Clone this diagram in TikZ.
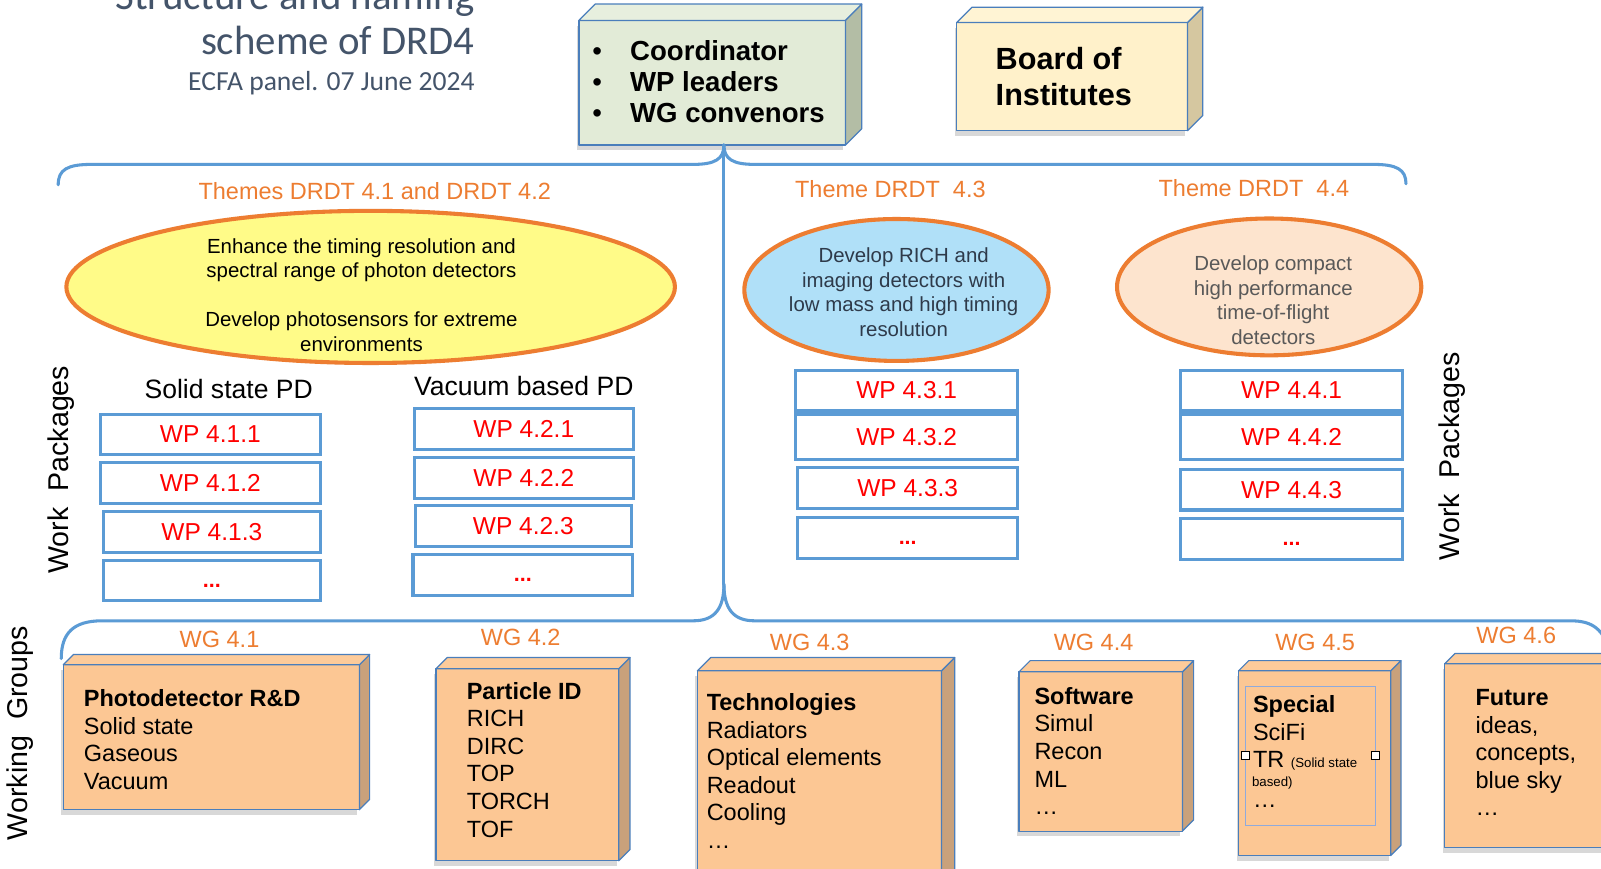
\documentclass[tikz,border=0pt]{standalone}
\usepackage{fontspec}
\setmainfont{Liberation Sans}
\newfontfamily\calib{Carlito}
\usetikzlibrary{shapes.geometric,shadows}
\definecolor{titlec}{HTML}{44546A}
\definecolor{orng}{HTML}{ED7D31}
\definecolor{bracec}{HTML}{5B9BD5}
\definecolor{edgec}{HTML}{4A7EBB}
\definecolor{wgfront}{HTML}{FCC794}
\definecolor{wgside}{HTML}{C9A17B}
\definecolor{wgtop}{HTML}{FDCB9A}
\definecolor{cofront}{HTML}{E2EBD7}
\definecolor{coside}{HTML}{B3BDA5}
\definecolor{cotop}{HTML}{E7EFDE}
\definecolor{bofront}{HTML}{FFF1CA}
\definecolor{boside}{HTML}{D5C7A0}
\definecolor{botop}{HTML}{FFF4D4}
\definecolor{yellowell}{HTML}{FFFB88}
\definecolor{blueell}{HTML}{B0E0F8}
\definecolor{peachell}{HTML}{FDE4CE}
\definecolor{wpred}{HTML}{FF0000}
\definecolor{innerc}{HTML}{8FAADC}
\definecolor{bluetxt}{HTML}{2E3A4A}
\definecolor{peachtxt}{HTML}{595959}
\newcommand{\fsz}[2]{\fontsize{#1}{#2}\selectfont}
% 3D faces of a box whose front face is node #1
\newcommand{\cubefaces}[4]{%
  \filldraw[boxedge,fill=#3] (#1.north east) -- ++(#2,-#2) -- ([shift={(#2,-#2)}]#1.south east) -- (#1.south east) -- cycle;
  \filldraw[boxedge,fill=#4] (#1.north west) -- ++(#2,-#2) -- ([shift={(#2,-#2)}]#1.north east) -- (#1.north east) -- cycle;
}
\begin{document}
\begin{tikzpicture}[x=1pt,y=-1pt,
  boxedge/.style={draw=edgec,line width=1.2pt,line join=round},
  face/.style={boxedge,outer sep=0pt,inner sep=0pt,
     drop shadow={shadow xshift=-2pt,shadow yshift=-5pt,opacity=0.3}},
  wpbox/.style={draw=bracec,line width=3pt,fill=white,outer sep=0pt,inner sep=0pt,
     minimum width=215,minimum height=40,font=\fsz{24}{28},text=wpred},
  wpdots/.style={font=\bfseries\fsz{21}{24},text=wpred,inner sep=0pt},
  brace/.style={draw=bracec,line width=3pt,line cap=round},
  orlabel/.style={text=orng,font=\fsz{23}{27},inner sep=0pt},
  wgtext/.style={anchor=north west,align=left,inner sep=0pt,font=\fsz{23}{27}},
  elltext/.style={align=center,inner sep=0pt,font=\fsz{20}{24}},
  ell/.style={ellipse,draw=orng,line width=4pt,inner sep=0pt}
]
\useasboundingbox (0,0) rectangle (1568,851);
\fill[white] (0,0) rectangle (1568,851);
\begin{scope}
\clip (0,0) rectangle (1568,851);

% ---------- title ----------
\node[anchor=base east,inner sep=0pt,font=\calib\fsz{40}{44},text=titlec] (title1) at (465,9) {Structure and naming};
\node[anchor=base east,inner sep=0pt,font=\calib\fsz{40}{44},text=titlec] (title2) at (465,53) {scheme of DRD4};
\node[anchor=base east,inner sep=0pt,font=\calib\fsz{27}{30},text=titlec] (title3) at (465,89) {ECFA panel. 07 June 2024};

% ---------- top boxes ----------
\node[face,fill=cofront,minimum width=261,minimum height=122] (coord) at (697.5,81) {};
\cubefaces{coord}{16}{coside}{cotop}
\node[anchor=north west,align=left,inner sep=0pt,font=\bfseries\fsz{27}{30.5}] (coordtxt) at (580,39)
  {\makebox[37pt][l]{\mdseries•}Coordinator\\\makebox[37pt][l]{\mdseries•}WP leaders\\\makebox[37pt][l]{\mdseries•}WG convenors};

\node[face,fill=bofront,minimum width=226,minimum height=106] (board) at (1050,75) {};
\cubefaces{board}{15}{boside}{botop}
\node[anchor=north west,align=left,inner sep=0pt,font=\bfseries\fsz{30}{35}] (boardtxt) at (975,46) {Board of\\Institutes};

% ---------- braces ----------
\coordinate (ucusp) at (709,142);
\coordinate (lcusp) at (709,572);
\coordinate (ul) at (57,181);
\coordinate (ur) at (1377,180);
\coordinate (ll) at (60,645);
\coordinate (lr) at (1578,640);
\draw[brace] (ul) .. controls (57,166) and (66,161) .. (90,161) -- (679,161) .. controls (700,161) and (709,156) .. (ucusp);
\draw[brace] (ucusp) .. controls (709,156) and (718,161) .. (739,161) -- (1345,161) .. controls (1368,161) and (1377,166) .. (ur);
\draw[brace] (ucusp) -- (lcusp);
\draw[brace] (ll) .. controls (60,620) and (72,608) .. (100,608) -- (679,608) .. controls (700,608) and (709,596) .. (lcusp);
\draw[brace] (lcusp) .. controls (709,596) and (718,608) .. (739,608) -- (1538,608) .. controls (1560,608) and (1570,616) .. (lr);

% ---------- themes ----------
\node[orlabel] (th12) at (367,187) {Themes DRDT 4.1 and DRDT 4.2};
\node[orlabel] (th3) at (872,185) {Theme DRDT\ \ 4.3};
\node[orlabel] (th4) at (1228,184) {Theme DRDT\ \ 4.4};

\node[ell,fill=yellowell,minimum width=596,minimum height=149] (ellY) at (363,281) {};
\node[elltext] (ellYt) at (354,289) {Enhance the timing resolution and\\spectral range of photon detectors\\[24pt]Develop photosensors for extreme\\environments};

\node[ell,fill=blueell,minimum width=298,minimum height=139] (ellB) at (878,284) {};
\node[elltext,text=bluetxt] (ellBt) at (885,286) {Develop RICH and\\imaging detectors with\\low mass and high timing\\resolution};

\node[ell,fill=peachell,minimum width=298,minimum height=134] (ellP) at (1243,281) {};
\node[elltext,text=peachtxt] (ellPt) at (1247,294) {Develop compact\\high performance\\time-of-flight\\detectors};

% ---------- work packages ----------
\node[rotate=90,inner sep=0pt,font=\fsz{28}{32}] (wpl) at (60,460) {Work\ \ Packages};
\node[rotate=90,inner sep=0pt,font=\fsz{28}{32}] (wpr) at (1422,447) {Work\ \ Packages};

\node[inner sep=0pt,font=\fsz{26}{30}] (ssPD) at (224,381) {Solid state PD};
\node[inner sep=0pt,font=\fsz{26}{30}] (vbPD) at (513,378) {Vacuum based PD};

\node[wpbox] (wp411) at (206,425.5) {WP 4.1.1};
\node[wpbox] (wp412) at (206,473) {WP 4.1.2};
\node[wpbox,minimum width=212] (wp413) at (207.5,521) {WP 4.1.3};
\node[wpbox,minimum width=212] (wp41x) at (207.5,568.5) {};
\node[wpdots] (wp41xt) at (wp41x.center) [yshift=-5pt] {...};

\node[wpbox] (wp421) at (513,420.5) {WP 4.2.1};
\node[wpbox] (wp422) at (513,468) {WP 4.2.2};
\node[wpbox,minimum width=212] (wp423) at (512.5,515.5) {WP 4.2.3};
\node[wpbox] (wp42x) at (512,563) {};
\node[wpdots] (wp42xt) at (wp42x.center) [yshift=-5pt] {...};

\node[wpbox,minimum width=217] (wp431) at (888,382.5) {WP 4.3.1};
\node[wpbox,minimum width=217,minimum height=44] (wp432) at (888,428) {WP 4.3.2};
\node[wpbox,minimum width=215] (wp433) at (889,478) {WP 4.3.3};
\node[wpbox,minimum width=215] (wp43x) at (889,527) {};
\node[wpdots] (wp43xt) at (wp43x.center) [yshift=-5pt] {...};

\node[wpbox,minimum width=217] (wp441) at (1265,382.5) {WP 4.4.1};
\node[wpbox,minimum width=217,minimum height=44] (wp442) at (1265,428) {WP 4.4.2};
\node[wpbox,minimum width=217] (wp443) at (1265,479.5) {WP 4.4.3};
\node[wpbox,minimum width=217] (wp44x) at (1265,528) {};
\node[wpdots] (wp44xt) at (wp44x.center) [yshift=-5pt] {...};

% ---------- working groups ----------
\node[rotate=90,inner sep=0pt,font=\fsz{28}{32}] (wgl) at (20,718) {Working\ \ Groups};

\node[orlabel] (wg1l) at (215,626) {WG 4.1};
\node[orlabel] (wg2l) at (510,624) {WG 4.2};
\node[orlabel] (wg3l) at (793,629) {WG 4.3};
\node[orlabel] (wg4l) at (1071,629) {WG 4.4};
\node[orlabel] (wg5l) at (1288,629) {WG 4.5};
\node[orlabel] (wg6l) at (1485,622) {WG 4.6};

\node[face,fill=wgfront,minimum width=290,minimum height=142] (wg1) at (207,722) {};
\cubefaces{wg1}{10}{wgside}{wgtop}
\node[wgtext] (wg1t) at (82,675) {\textbf{Photodetector R\&D}\\Solid state\\Gaseous\\Vacuum};

\node[face,fill=wgfront,minimum width=179,minimum height=188] (wg2) at (516.5,749) {};
\cubefaces{wg2}{11}{wgside}{wgtop}
\node[wgtext] (wg2t) at (457,668) {\textbf{Particle ID}\\RICH\\DIRC\\TOP\\TORCH\\TOF};

\node[face,fill=wgfront,minimum width=239,minimum height=213] (wg3) at (802.5,763.5) {};
\cubefaces{wg3}{13}{wgside}{wgtop}
\node[wgtext] (wg3t) at (692,679) {\textbf{Technologies}\\Radiators\\Optical elements\\Readout\\Cooling\\…};

\node[face,fill=wgfront,minimum width=160,minimum height=156] (wg4) at (1078,736) {};
\cubefaces{wg4}{11}{wgside}{wgtop}
\node[wgtext] (wg4t) at (1013,673) {\textbf{Software}\\Simul\\Recon\\ML\\…};

\node[face,fill=wgfront,minimum width=149,minimum height=181] (wg5) at (1287.5,747.5) {};
\cubefaces{wg5}{10}{wgside}{wgtop}
\node[draw=innerc,line width=0.8pt,minimum width=127,minimum height=136,inner sep=0pt] (wg5in) at (1283.5,740) {};
\node[draw=black,fill=white,line width=0.8pt,minimum size=8,inner sep=0pt] (hl) at (wg5in.west) {};
\node[draw=black,fill=white,line width=0.8pt,minimum size=8,inner sep=0pt] (hr) at (wg5in.east) {};
\node[wgtext] (wg5t) at (1227,681) {\textbf{Special}\\SciFi\\TR {\fsz{13}{15}(Solid state}};
\node[anchor=west,inner sep=0pt,font=\fsz{13}{15}] (wg5b) at (1226,767) {based)};
\node[anchor=west,inner sep=0pt,font=\fsz{23}{27}] (wg5d) at (1227,790) {…};

\node[face,fill=wgfront,minimum width=160,minimum height=180] (wg6) at (1495,740) {};
\cubefaces{wg6}{10}{wgside}{wgtop}
\node[wgtext] (wg6t) at (1445,675) {\textbf{Future}\\ideas,\\concepts,\\blue sky\\…};
\end{scope}
\end{tikzpicture}
\end{document}
